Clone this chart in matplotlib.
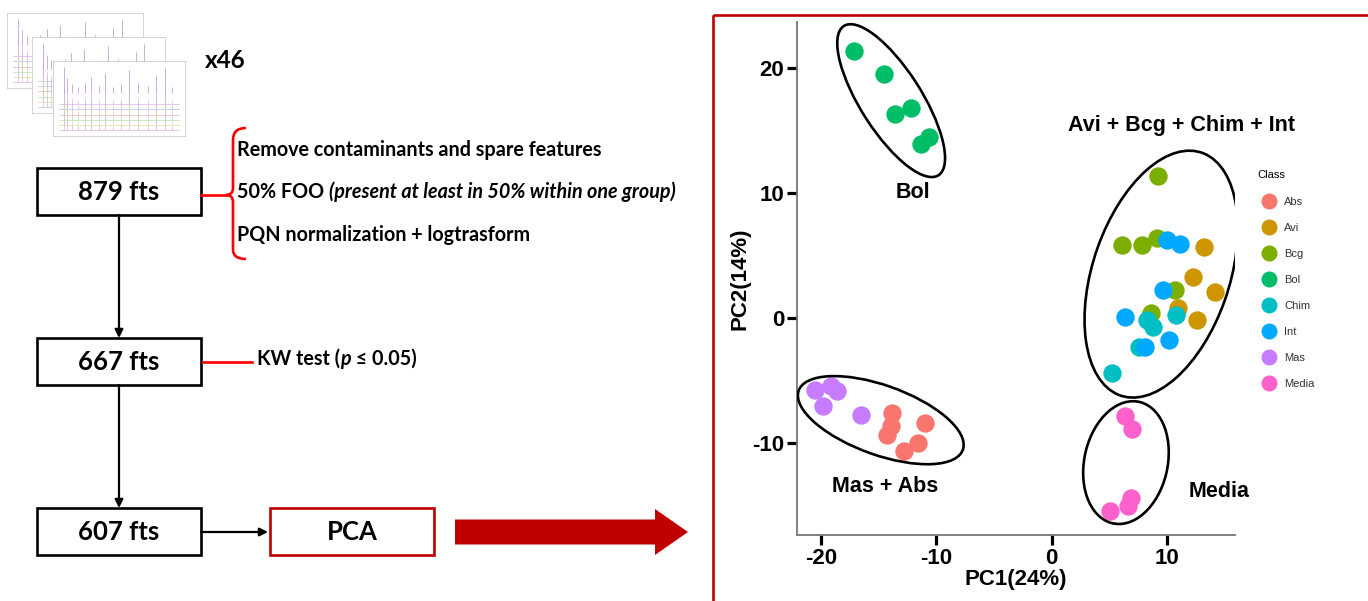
import matplotlib.pyplot as plt
from matplotlib.patches import Ellipse, Rectangle, FancyArrow, PathPatch
from matplotlib.path import Path
from matplotlib.lines import Line2D

plt.rcParams['font.family'] = ['Liberation Sans', 'DejaVu Sans']
plt.rcParams['axes.unicode_minus'] = False
FLOW_FONT = ['Lato', 'DejaVu Sans']

# PCA scores (PC1, PC2) for each class
classes = ['Abs', 'Avi', 'Bcg', 'Bol', 'Chim', 'Int', 'Mas', 'Media']
class_colors = ['#F8766D', '#CD9600', '#7CAE00', '#00BE67', '#00BFC4', '#00A9FF', '#C77CFF', '#FF61CC']
pc1 = {
    'Abs':   [-13.8, -13.9, -14.3, -11.0, -11.6, -12.8],
    'Avi':   [13.2, 12.3, 14.2, 11.0, 12.6],
    'Bcg':   [9.2, 6.1, 7.8, 9.1, 10.7, 8.6],
    'Bol':   [-17.1, -14.5, -13.6, -12.2, -11.3, -10.6],
    'Chim':  [8.3, 8.8, 10.8, 7.6, 5.2],
    'Int':   [10.0, 11.1, 9.7, 6.4, 8.1, 10.2],
    'Mas':   [-20.5, -19.1, -18.6, -19.8, -16.5],
    'Media': [6.4, 7.0, 6.9, 6.6, 5.1],
}
pc2 = {
    'Abs':   [-7.6, -8.7, -9.4, -8.4, -10.0, -10.7],
    'Avi':   [5.7, 3.3, 2.1, 0.8, -0.2],
    'Bcg':   [11.4, 5.8, 5.8, 6.4, 2.2, 0.4],
    'Bol':   [21.4, 19.5, 16.3, 16.8, 13.9, 14.5],
    'Chim':  [-0.2, -0.7, 0.2, -2.3, -4.4],
    'Int':   [6.2, 5.9, 2.2, 0.1, -2.3, -1.8],
    'Mas':   [-5.8, -5.5, -5.9, -7.1, -7.8],
    'Media': [-7.9, -8.9, -14.4, -15.1, -15.5],
}

# group ellipses: center, width, height, angle and label
groups = ['Bol', 'Avi + Bcg + Chim + Int', 'Mas + Abs', 'Media']
grp_center = [(-13.9, 17.4), (9.5, 3.5), (-14.8, -8.2), (6.45, -11.6)]
grp_size = [(14.5, 5.2), (20.7, 11.8), (15.0, 5.6), (10.0, 7.2)]
grp_angle = [-55, 69, -18, 75]
grp_label_pos = [(-12.0, 10.0), (11.3, 15.4), (-14.4, -13.5), (14.5, -13.9)]

# little chromatogram thumbnails
peak_pos = [0.04, 0.07, 0.11, 0.16, 0.22, 0.27, 0.33, 0.38, 0.45, 0.52, 0.58, 0.66, 0.74, 0.81, 0.88, 0.94]
peak_h = [0.9, 0.5, 0.3, 0.2, 0.35, 0.55, 0.25, 0.7, 0.2, 0.3, 0.8, 0.35, 0.25, 0.6, 0.85, 0.2]
trace_colors = ['#e3b3ea', '#b7b9ee', '#eab3b3', '#b6dfb6', '#dede9e', '#d8b6e6']
trace_base = [0.55, 0.46, 0.37, 0.28, 0.19, 0.10]

fig = plt.figure(figsize=(13.68, 6.01), dpi=100)

# flowchart layer in pixel units
fa = fig.add_axes([0, 0, 1, 1])
fa.set_xlim(0, 1368)
fa.set_ylim(601, 0)
fa.axis('off')

# red frame around the PCA panel
fa.add_patch(Rectangle((713, 15), 720, 620, fill=False, ec='#C00000', lw=1.9))

# feature boxes
boxes = ['879 fts', '667 fts', '607 fts']
box_y = [168, 338, 508]
for lbl, y in zip(boxes, box_y):
    fa.add_patch(Rectangle((37, y), 164, 47, fill=False, ec='black', lw=1.9))
    fa.text(119, y + 24, lbl, ha='center', va='center', fontsize=18.5,
            fontweight='bold', family=FLOW_FONT)
fa.add_patch(Rectangle((270, 508), 164, 47, fill=False, ec='#C00000', lw=1.9))
fa.text(352, 532, 'PCA', ha='center', va='center', fontsize=18.5,
        fontweight='bold', family=FLOW_FONT)

arrow_kw = dict(arrowstyle='-|>', color='black', lw=1.6, mutation_scale=12,
                shrinkA=0, shrinkB=0)
fa.annotate('', xy=(119, 338), xytext=(119, 215), arrowprops=arrow_kw)
fa.annotate('', xy=(119, 508), xytext=(119, 385), arrowprops=arrow_kw)
fa.annotate('', xy=(268, 532), xytext=(201, 532), arrowprops=arrow_kw)

# big red arrow to the PCA plot
fa.add_patch(FancyArrow(455, 532, 233, 0, width=25, head_width=46, head_length=33,
                        length_includes_head=True, color='#C00000', lw=0))

# curly brace for preprocessing steps
brace = Path([(246, 128), (233, 128), (233, 140), (233, 188), (233, 195), (226, 195),
              (233, 195), (233, 202), (233, 250), (233, 259), (246, 259)],
             [Path.MOVETO, Path.CURVE3, Path.CURVE3, Path.LINETO, Path.CURVE3, Path.CURVE3,
              Path.CURVE3, Path.CURVE3, Path.LINETO, Path.CURVE3, Path.CURVE3])
fa.add_patch(PathPatch(brace, fill=False, ec='#FF0000', lw=1.9))
fa.plot([201, 226], [195, 195], color='#FF0000', lw=1.9)
fa.plot([203, 252], [362, 362], color='#FF0000', lw=1.9)

FS = 14.2
step_kw = dict(fontsize=FS, fontweight='bold', family=FLOW_FONT, va='center', ha='left')
fa.text(237, 150, 'Remove contaminants and spare features', **step_kw)
t = fa.text(237, 192, '50% FOO ', **step_kw)
fa.annotate('(present at least in 50% within one group)', xy=(1, 0), xycoords=t,
            va='bottom', ha='left', fontsize=FS, fontweight='bold',
            fontstyle='italic', family=FLOW_FONT)
fa.text(237, 235, 'PQN normalization + logtrasform', **step_kw)
t1 = fa.text(257, 359, 'KW test (', **step_kw)
t2 = fa.annotate('p', xy=(1, 0), xycoords=t1, va='bottom', ha='left', fontsize=FS,
                 fontweight='bold', fontstyle='italic', family=FLOW_FONT)
fa.annotate(' \u2264 0.05)', xy=(1, 0), xycoords=t2, va='bottom', ha='left',
            fontsize=FS, fontweight='bold', family=FLOW_FONT)

fa.text(225, 60, 'x46', ha='center', va='center', fontsize=17.5, fontweight='bold',
        family=FLOW_FONT)

# stacked thumbnails
for (x0, y0, x1, y1) in [(7, 13, 143, 88), (32, 37, 165, 113), (53, 61, 185, 136)]:
    th = fig.add_axes([x0 / 1368, 1 - y1 / 601, (x1 - x0) / 1368, (y1 - y0) / 601])
    th.set_xlim(-0.05, 1.05)
    th.set_ylim(0, 1.3)
    th.set_xticks([])
    th.set_yticks([])
    for s in th.spines.values():
        s.set_color('#cccccc')
        s.set_linewidth(0.6)
    for col, base in zip(trace_colors, trace_base):
        th.plot([0, 1], [base, base], color=col, lw=0.5)
        th.vlines(peak_pos, base, [base + h * 0.35 for h in peak_h], color=col, lw=0.5)
    th.vlines(peak_pos, 0.75, [0.75 + h * 0.5 for h in peak_h], color='#c9a0d6', lw=0.6)

# PCA score plot
ax = fig.add_axes([797 / 1368, 1 - 535 / 601, (1235 - 797) / 1368, (535 - 22) / 601])
for cls, col in zip(classes, class_colors):
    ax.scatter(pc1[cls], pc2[cls], s=175, color=col, lw=0, zorder=3)

for c, (w, h), a in zip(grp_center, grp_size, grp_angle):
    ax.add_patch(Ellipse(c, w, h, angle=a, fill=False, ec='black', lw=1.9, zorder=4))
for g, (x, y) in zip(groups, grp_label_pos):
    ax.text(x, y, g, ha='center', va='center', fontsize=15.5, fontweight='bold')

ax.set_xlim(-22.06, 15.9)
ax.set_ylim(-17.4, 23.7)
ax.set_xticks([-20, -10, 0, 10])
ax.set_yticks([-10, 0, 10, 20])
for s in ['top', 'right']:
    ax.spines[s].set_visible(False)
for s in ['left', 'bottom']:
    ax.spines[s].set_color('#777777')
    ax.spines[s].set_linewidth(1.3)
ax.tick_params(length=7, width=2.3, color='black', labelsize=16, pad=2)
for lbl in ax.get_xticklabels() + ax.get_yticklabels():
    lbl.set_fontweight('bold')
ax.set_xlabel('PC1(24%)', fontsize=16, fontweight='bold', labelpad=0)
ax.set_ylabel('PC2(14%)', fontsize=16, fontweight='bold', labelpad=1)

handles = [Line2D([], [], marker='o', ls='', color=c, markersize=10.5, label=cls)
           for cls, c in zip(classes, class_colors)]
leg = fig.legend(handles=handles, title='Class', loc='upper left',
                 bbox_to_anchor=(1253 / 1368, 1 - 166 / 601), frameon=False,
                 fontsize=8, title_fontsize=8, labelspacing=1.45, handletextpad=0.4,
                 borderaxespad=0, alignment='left')
for txt in leg.get_texts():
    txt.set_color('#333333')

fig.savefig('out.png', dpi=100)
